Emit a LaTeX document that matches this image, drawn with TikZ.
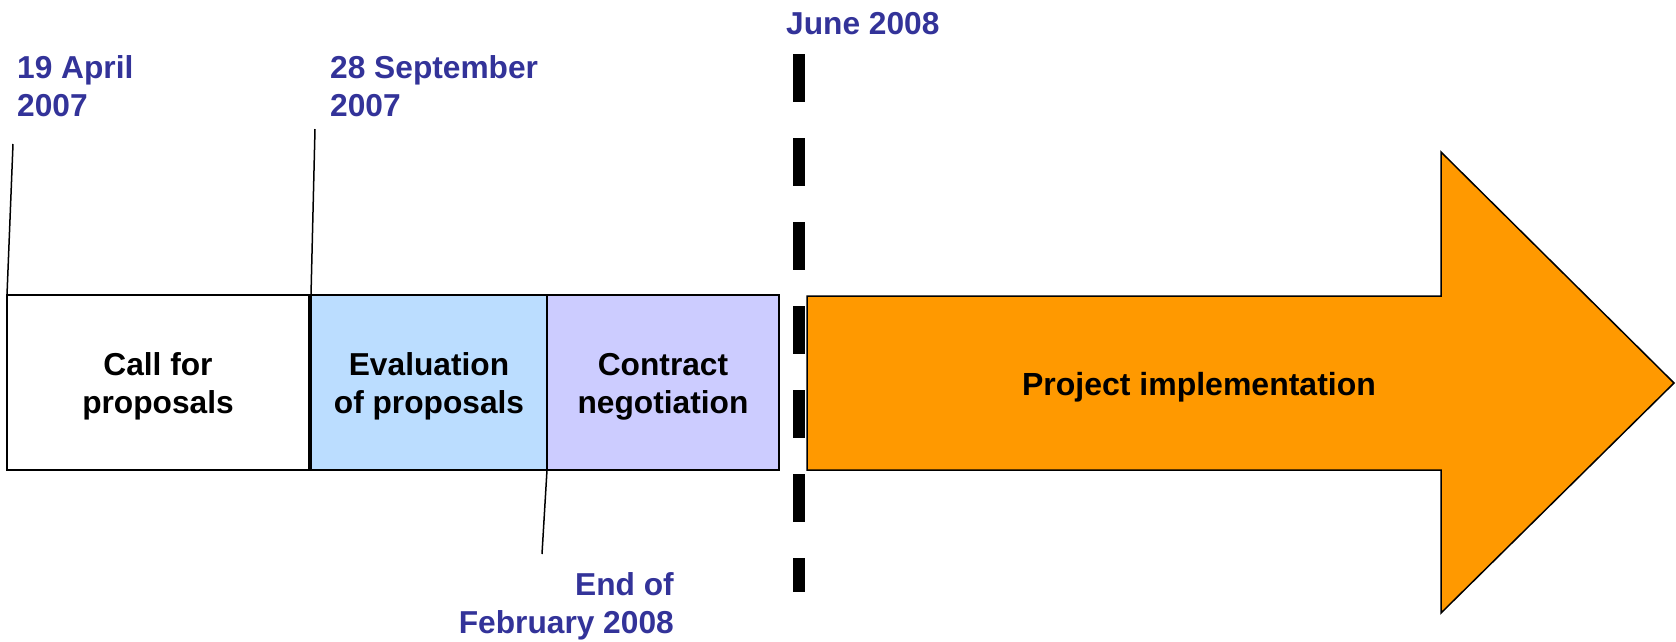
\documentclass[tikz,border=0pt]{standalone}
\usepackage{fontspec}
\setmainfont{Liberation Sans}
\definecolor{labelblue}{RGB}{51,51,153}
\definecolor{evalblue}{RGB}{187,221,255}
\definecolor{contractpurple}{RGB}{204,204,255}
\definecolor{implorange}{RGB}{255,153,0}
\begin{document}
\begin{tikzpicture}[x=1pt,y=-1pt,
  datelabel/.style={text=labelblue, font=\fontsize{31.7}{38}\selectfont\bfseries, inner sep=0pt},
  phase/.style={draw=black, line width=2.5pt, outer sep=0pt, inner sep=0pt, minimum height=175pt},
  phasetext/.style={font=\fontsize{31.7}{38}\selectfont\bfseries, align=center, inner sep=0pt},
  leader/.style={draw=black, line width=1.5pt},
  milestone/.style={draw=black, line width=12pt, dash pattern=on 48pt off 36pt}]
\useasboundingbox (0,0) rectangle (1676,641);

% phase boxes
\node[phase, fill=white, minimum width=302pt] (call) at (158,382.5) {};
\node[phase, fill=evalblue, minimum width=236pt] (eval) at (429,382.5) {};
\node[phase, fill=contractpurple, minimum width=232pt] (contract) at (663,382.5) {};
\node[phasetext] (callText) at (158,386.7) {Call for\\proposals};
\node[phasetext] (evalText) at (429,386.7) {Evaluation\\of proposals};
\node[phasetext] (contractText) at (663,386.7) {Contract\\negotiation};

% implementation arrow
\draw[fill=implorange, draw=black, line width=1.5pt, line join=miter]
  (807,296) -- (1441,296) -- (1441,152) -- (1674,383) -- (1441,613) -- (1441,470) -- (807,470) -- cycle;
\node[font=\fontsize{32}{38}\selectfont\bfseries, inner sep=0pt] (impl) at (1199,387) {Project implementation};

% milestone dashed line
\coordinate (msTop) at (799,54);
\coordinate (msBot) at (799,592);
\draw[milestone] (msTop) -- (msBot);

% date labels
\node[datelabel, align=left, anchor=north west] (d1) at (17,55) {19 April\\2007};
\node[datelabel, align=left, anchor=north west] (d2) at (330,55) {28 September\\2007};
\node[datelabel, anchor=north west] (d3) at (786,12) {June 2008};
\node[datelabel, align=right, anchor=north east] (d4) at (674,572) {End of\\February 2008};

% leader lines
\coordinate (l1) at (13,144);
\coordinate (l2) at (315,129);
\coordinate (l3) at (542,554);
\draw[leader] (call.north west) -- (l1);
\draw[leader] (eval.north west) -- (l2);
\draw[leader] (contract.south west) -- (l3);
\end{tikzpicture}
\end{document}
